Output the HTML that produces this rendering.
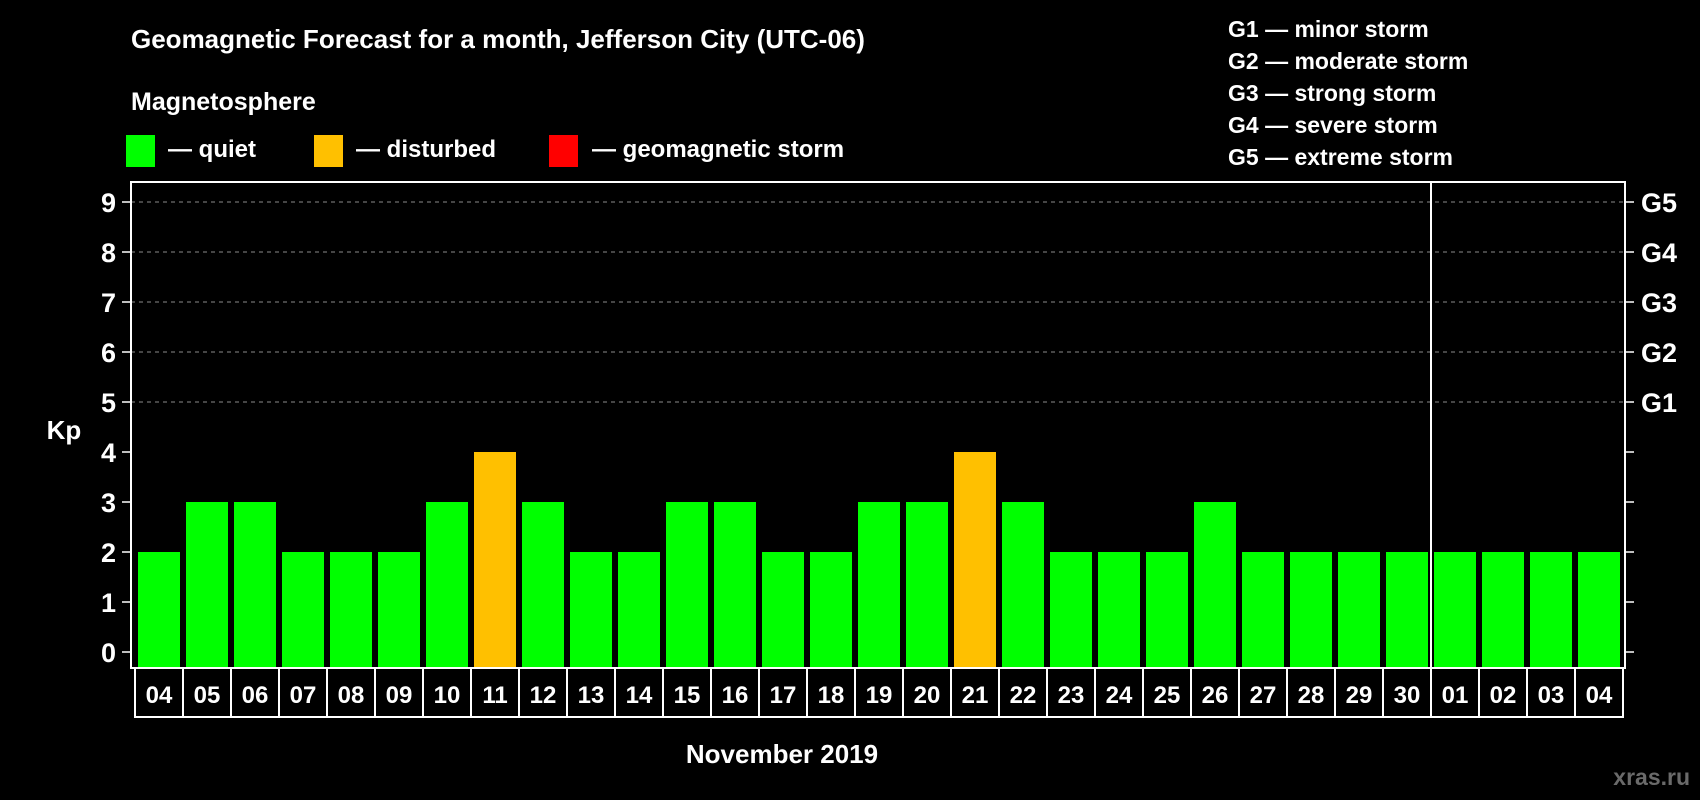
<!DOCTYPE html>
<html><head><meta charset="utf-8"><style>
html,body{margin:0;padding:0;background:#000;}
svg{display:block;font-family:"Liberation Sans",Arial,sans-serif;font-weight:bold;}
</style></head><body>
<svg id="chart" width="1700" height="800" viewBox="0 0 1700 800" xmlns="http://www.w3.org/2000/svg">
<rect width="1700" height="800" fill="#000"/>
<text x="131" y="48" fill="#fff" font-size="26">Geomagnetic Forecast for a month, Jefferson City (UTC-06)</text>
<text x="131" y="110" fill="#fff" font-size="25">Magnetosphere</text>
<g><rect x="126" y="135" width="29" height="32" fill="#00ff00"/><text x="168" y="157" fill="#fff" font-size="24">— quiet</text></g>
<g><rect x="314" y="135" width="29" height="32" fill="#ffc000"/><text x="356" y="157" fill="#fff" font-size="24">— disturbed</text></g>
<g><rect x="549" y="135" width="29" height="32" fill="#ff0000"/><text x="592" y="157" fill="#fff" font-size="24">— geomagnetic storm</text></g>
<g fill="#fff" font-size="23">
<text x="1228" y="37">G1 — minor storm</text>
<text x="1228" y="69">G2 — moderate storm</text>
<text x="1228" y="101">G3 — strong storm</text>
<text x="1228" y="133">G4 — severe storm</text>
<text x="1228" y="165">G5 — extreme storm</text>
</g>
<text x="64" y="439" fill="#fff" font-size="26" text-anchor="middle">Kp</text>
<text x="782" y="763" fill="#fff" font-size="26" text-anchor="middle">November 2019</text>
<text x="1690" y="785" fill="#6a6a6a" font-size="23" text-anchor="end">xras.ru</text>
<g id="plot"></g>
</svg>
<script>
const days = ["04","05","06","07","08","09","10","11","12","13","14","15","16","17","18","19","20","21","22","23","24","25","26","27","28","29","30","01","02","03","04"];
const kp = [2,3,3,2,2,2,3,4,3,2,2,3,3,2,2,3,3,4,3,2,2,2,3,2,2,2,2,2,2,2,2];
const yTicks = [0,1,2,3,4,5,6,7,8,9];
const gLabels = ["G1","G2","G3","G4","G5"];
const monthBreakIndex = 27;

const NS = "http://www.w3.org/2000/svg";
const plot = document.getElementById("plot");
const L = 131, R = 1625, T = 182, B = 668;
const y = v => 652 - v * 50;
const x = i => 138 + i * 48;
const barW = 42;
function mk(tag, attrs, parent) {
  const e = document.createElementNS(NS, tag);
  for (const k in attrs) e.setAttribute(k, attrs[k]);
  (parent || plot).appendChild(e);
  return e;
}
// gridlines
yTicks.forEach(v => {
  if (v >= 5) {
    const g = mk("line", {x1: L, x2: R, y1: y(v), y2: y(v), stroke: "#8a8a8a", "stroke-width": 1, "stroke-dasharray": "4,4"});
    
    
  }
  const t1 = mk("line", {x1: L - 9, x2: L, y1: y(v), y2: y(v), stroke: "#fff", "stroke-width": 1.5});
  
  
  const t2 = mk("line", {x1: R, x2: R + 9, y1: y(v), y2: y(v), stroke: "#fff", "stroke-width": 1.5});
  
  
  const lb = mk("text", {x: 116, y: y(v) + 10, fill: "#fff", "font-size": 27, "text-anchor": "end"});
  lb.textContent = v;
  
  
  if (v >= 5) {
    const gl = mk("text", {x: 1641, y: y(v) + 10, fill: "#fff", "font-size": 27});
    gl.textContent = gLabels[v - 5];
    
    
  }
});
// bars
kp.forEach((v, i) => {
  const color = v >= 5 ? "#ff0000" : (v >= 4 ? "#ffc000" : "#00ff00");
  const b = mk("rect", {x: x(i), y: y(v), width: barW, height: B - y(v), fill: color});
  
  
});
// plot frame
const fr = mk("rect", {x: L, y: T, width: R - L, height: B - T, fill: "none", stroke: "#fff", "stroke-width": 2});


const sep = mk("line", {x1: x(monthBreakIndex) - 3, x2: x(monthBreakIndex) - 3, y1: T, y2: B, stroke: "#fff", "stroke-width": 2});


// day label boxes
days.forEach((d, i) => {
  const bx = mk("rect", {x: 135 + i * 48, y: B, width: 48, height: 49, fill: "none", stroke: "#fff", "stroke-width": 2});
  
  
  const t = mk("text", {x: 159 + i * 48, y: B + 35, fill: "#fff", "font-size": 24, "text-anchor": "middle"});
  t.textContent = d;
  
  
});
</script>
</body></html>
